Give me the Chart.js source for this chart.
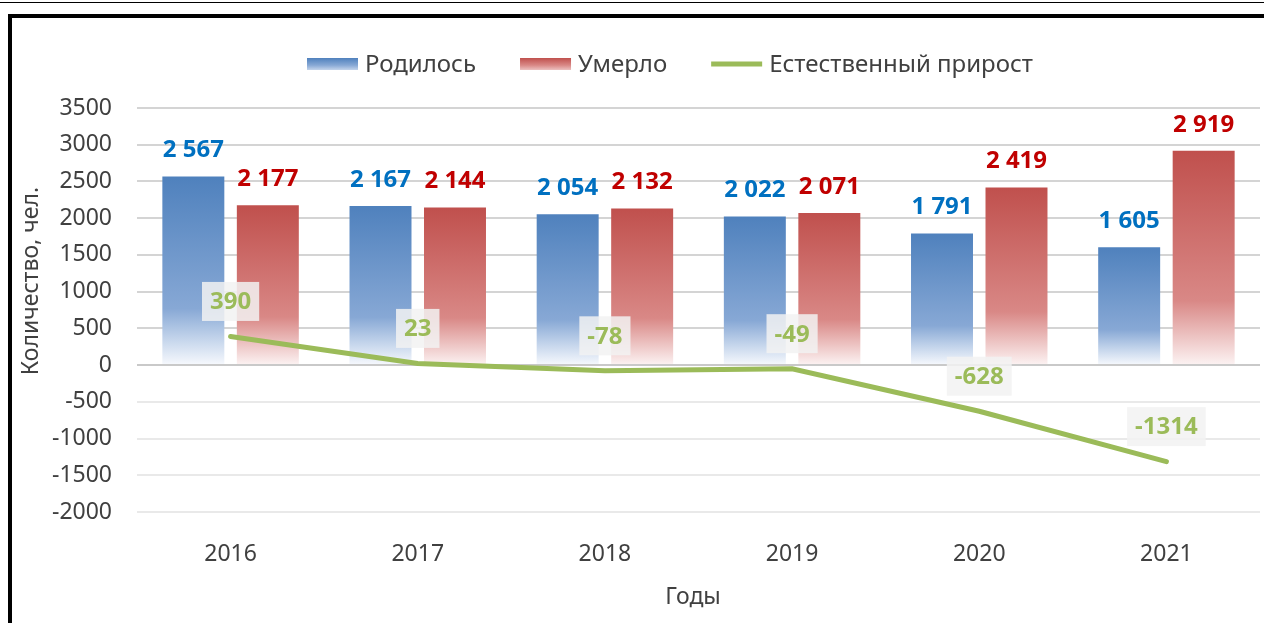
<!DOCTYPE html>
<html>
<head>
<meta charset="utf-8">
<script src="https://cdn.jsdelivr.net/npm/chart.js@4.4.1/dist/chart.umd.min.js"></script>
<style>
  body { margin: 0; background: #fff; }
  #wrap { position: relative; width: 1264px; height: 623px; overflow: hidden; background: #fff; }
  #topline { position: absolute; left: 0; top: 2px; width: 1264px; height: 1px; background: #000; }
  #frame { position: absolute; left: 8px; top: 14px; width: 1300px; height: 700px; border: 4px solid #000; pointer-events: none; }
  canvas { position: absolute; left: 0; top: 0; }
</style>
</head>
<body>
<div id="wrap">
  <canvas id="chart" width="1264" height="623"></canvas>
  <div id="topline"></div>
  <div id="frame"></div>
</div>
<script>
const years = ['2016', '2017', '2018', '2019', '2020', '2021'];
const born = [2567, 2167, 2054, 2022, 1791, 1605];
const died = [2177, 2144, 2132, 2071, 2419, 2919];
const growth = [390, 23, -78, -49, -628, -1314];
const yTicks = { min: -2000, max: 3500, step: 500 };

const FONT = '"Noto Sans", "Liberation Sans", sans-serif';
const TEXT = '#404040';

// gradient for each bar: solid at the top, fading to white at zero
function barFill(stops, solid) {
  return function (c) {
    const chart = c.chart;
    if (c.type !== 'data' || !chart.chartArea) return solid;
    const y = chart.scales.y;
    const top = y.getPixelForValue(c.parsed.y);
    const bottom = y.getPixelForValue(0);
    const g = chart.ctx.createLinearGradient(0, top, 0, bottom);
    stops.forEach(s => g.addColorStop(s[0], s[1]));
    return g;
  };
}

const blueStops = [[0, '#4f81bd'], [0.7, '#87a8d5'], [0.86, '#c3d4eb'], [1, '#f7f9fd']];
const redStops = [[0, '#c0504d'], [0.7, '#d98886'], [0.86, '#ecc1c0'], [1, '#fcf3f3']];

function spaced(v) {
  return String(v).replace(/\B(?=(\d{3})+(?!\d))/g, ' ');
}

const extras = {
  id: 'extras',
  afterDatasetsDraw(chart) {
    const ctx = chart.ctx;
    ctx.save();
    ctx.textAlign = 'center';
    ctx.textBaseline = 'middle';
    ctx.font = 'bold 24px ' + FONT;
    // bar value labels
    [[0, '#0070c0'], [1, '#c00000']].forEach(([di, col]) => {
      const meta = chart.getDatasetMeta(di);
      ctx.fillStyle = col;
      meta.data.forEach((bar, i) => {
        const v = chart.data.datasets[di].data[i];
        ctx.fillText(spaced(v), bar.x, bar.y - 26);
      });
    });
    // line value labels in boxes
    const lm = chart.getDatasetMeta(2);
    lm.data.forEach((pt, i) => {
      const t = String(chart.data.datasets[2].data[i]);
      const w = ctx.measureText(t).width + 16;
      const h = 39;
      const cy = pt.y - 35;
      ctx.fillStyle = 'rgba(242,242,242,0.85)';
      ctx.fillRect(pt.x - w / 2, cy - h / 2, w, h);
      ctx.fillStyle = '#9bbb59';
      ctx.fillText(t, pt.x, cy + 1);
    });
    ctx.restore();
  },
  afterDraw(chart) {
    const ctx = chart.ctx;
    ctx.save();
    ctx.font = '23px ' + FONT;
    ctx.fillStyle = TEXT;
    ctx.textBaseline = 'middle';
    // axis titles
    ctx.textAlign = 'center';
    ctx.fillText('Годы', 693, 597);
    ctx.translate(31, 281);
    ctx.rotate(-Math.PI / 2);
    ctx.fillText('Количество, чел.', 0, 0);
    ctx.restore();

    // legend
    ctx.save();
    ctx.font = '24px ' + FONT;
    ctx.textBaseline = 'middle';
    ctx.textAlign = 'left';
    const ly = 64;
    let x = 307;
    chart.data.datasets.forEach((ds, i) => {
      if (ds.type === 'line') {
        ctx.strokeStyle = ds.borderColor;
        ctx.lineWidth = 5;
        ctx.beginPath();
        ctx.moveTo(x, ly);
        ctx.lineTo(x + 51, ly);
        ctx.stroke();
      } else {
        const stops = i === 0 ? blueStops : redStops;
        const g = ctx.createLinearGradient(0, ly - 6, 0, ly + 6);
        g.addColorStop(0, stops[0][1]);
        g.addColorStop(0.6, stops[1][1]);
        g.addColorStop(1, stops[2][1]);
        ctx.fillStyle = g;
        ctx.fillRect(x, ly - 6, 51, 12);
      }
      x += 51 + 7;
      ctx.fillStyle = TEXT;
      ctx.fillText(ds.label, x, ly + 1);
      x += ctx.measureText(ds.label).width + 44;
    });
    ctx.restore();
  }
};

new Chart(document.getElementById('chart'), {
  data: {
    labels: years,
    datasets: [
      {
        type: 'bar',
        label: 'Родилось',
        data: born,
        backgroundColor: barFill(blueStops, '#4f81bd'),
        categoryPercentage: 0.796,
        barPercentage: 0.832,
        order: 1
      },
      {
        type: 'bar',
        label: 'Умерло',
        data: died,
        backgroundColor: barFill(redStops, '#c0504d'),
        categoryPercentage: 0.796,
        barPercentage: 0.832,
        order: 1
      },
      {
        type: 'line',
        label: 'Естественный прирост',
        data: growth,
        borderColor: '#9bbb59',
        borderWidth: 5,
        borderCapStyle: 'round',
        pointRadius: 0,
        tension: 0,
        order: 0
      }
    ]
  },
  options: {
    responsive: false,
    animation: false,
    devicePixelRatio: 1,
    layout: { padding: { top: 108, right: 4, left: 0, bottom: 0 } },
    plugins: { legend: { display: false }, tooltip: { enabled: false } },
    scales: {
      x: {
        grid: { display: false },
        border: { display: false },
        ticks: { font: { family: FONT, size: 23 }, color: TEXT, padding: 21 },
        afterFit(s) { s.height = 111; }
      },
      y: {
        min: yTicks.min,
        max: yTicks.max,
        border: { display: false },
        grid: {
          drawTicks: false,
          lineWidth: 2,
          color: c => c.tick.value === 0 ? '#c9c9c9' : (c.tick.value > 0 ? '#d4d4d4' : '#e9e9e9')
        },
        ticks: {
          stepSize: yTicks.step,
          font: { family: FONT, size: 23 },
          color: TEXT,
          padding: 25,
          callback: v => String(v)
        },
        afterFit(s) { s.width = 137; }
      }
    }
  },
  plugins: [extras]
});
</script>
</body>
</html>
